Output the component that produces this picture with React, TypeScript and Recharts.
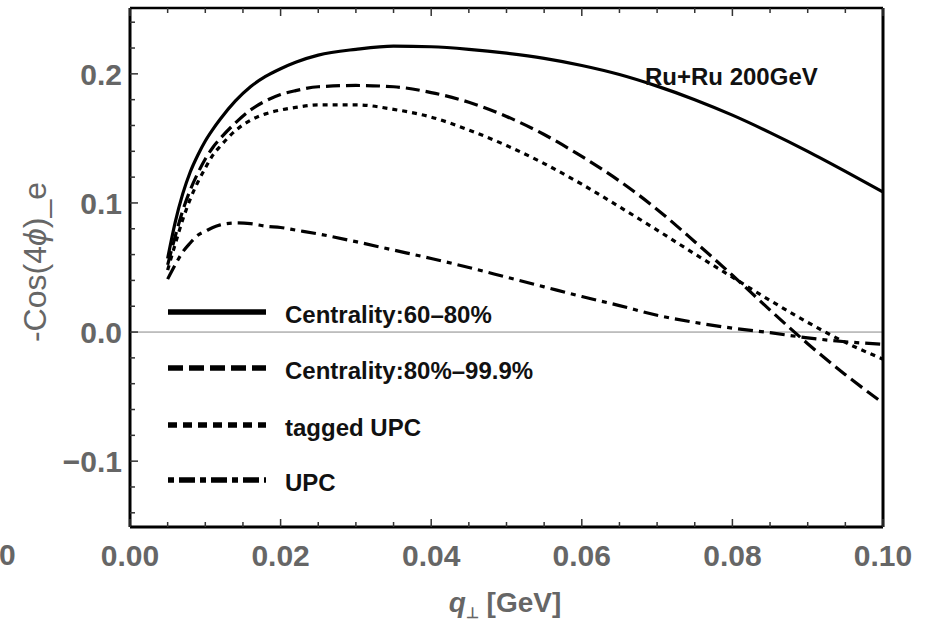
import React from "react"
import { LineChart, Line, XAxis, YAxis, ReferenceLine } from "recharts"

// transverse momentum grid (GeV)
const qValues = [
    0.005, 0.006, 0.007, 0.008, 0.009, 0.01, 0.011, 0.012, 0.014, 0.016, 0.018, 0.02, 0.022, 0.025, 0.03,
    0.035, 0.04, 0.045, 0.05, 0.055, 0.06, 0.065, 0.07, 0.075, 0.08, 0.085, 0.09, 0.095, 0.1,
]

const centrality6080 = [
    0.057, 0.085, 0.107, 0.124, 0.137, 0.148, 0.157, 0.165, 0.179, 0.19, 0.198, 0.204, 0.209, 0.2145, 0.219,
    0.2215, 0.221, 0.219, 0.216, 0.212, 0.2065, 0.1995, 0.1905, 0.18, 0.168, 0.1545, 0.14, 0.1245, 0.1085,
]

const centrality8099 = [
    0.052, 0.074, 0.094, 0.11, 0.123, 0.134, 0.143, 0.15, 0.162, 0.172, 0.179, 0.184, 0.187, 0.19, 0.191,
    0.19, 0.1855, 0.178, 0.167, 0.153, 0.136, 0.117, 0.095, 0.07, 0.044, 0.017, -0.009, -0.033, -0.055,
]

const taggedUpc = [
    0.048, 0.068, 0.087, 0.103, 0.116, 0.127, 0.137, 0.144, 0.156, 0.164, 0.169, 0.172, 0.174, 0.176, 0.176,
    0.1725, 0.1665, 0.1565, 0.1445, 0.1305, 0.1145, 0.097, 0.079, 0.0605, 0.0425, 0.0245, 0.0075, -0.008, -0.021,
]

const upc = [
    0.041, 0.052, 0.062, 0.069, 0.075, 0.078, 0.081, 0.083, 0.0845, 0.084, 0.082, 0.081, 0.079, 0.076, 0.07,
    0.0635, 0.057, 0.05, 0.0425, 0.035, 0.0275, 0.0205, 0.013, 0.0075, 0.003, -0.0005, -0.0045, -0.0075, -0.0095,
]

const xTicks = [
    0, 0.005, 0.01, 0.015, 0.02, 0.025, 0.03, 0.035, 0.04, 0.045, 0.05, 0.055, 0.06, 0.065, 0.07, 0.075, 0.08,
    0.085, 0.09, 0.095, 0.1,
]
const xMajor = [0, 0.02, 0.04, 0.06, 0.08, 0.1]
const yTicks = [
    -0.14, -0.12, -0.1, -0.08, -0.06, -0.04, -0.02, 0, 0.02, 0.04, 0.06, 0.08, 0.1, 0.12, 0.14, 0.16, 0.18, 0.2,
    0.22, 0.24,
]
const yMajor = [-0.1, 0, 0.1, 0.2]

const series = [
    { key: "c6080", name: "Centrality:60\u201380%", dash: undefined, legendDash: undefined },
    { key: "c8099", name: "Centrality:80%\u201399.9%", dash: "14 6", legendDash: "15 6" },
    { key: "tagged", name: "tagged UPC", dash: "5 5", legendDash: "9 6" },
    { key: "upc", name: "UPC", dash: "15 6 5 6", legendDash: "6 5 16 5" },
]

const data = qValues.map((q, i) => ({
    q,
    c6080: centrality6080[i],
    c8099: centrality8099[i],
    tagged: taggedUpc[i],
    upc: upc[i],
}))

const labelColor = "#666"
const font = "'Liberation Sans', Arial, sans-serif"

const isMajor = (list: number[], v: number) => list.some((m) => Math.abs(m - v) < 1e-9)

const fmtY = (v: number) => (v < 0 ? "\u2212" + Math.abs(v).toFixed(1) : v.toFixed(1))

function BottomTick({ x, y, payload }: any) {
    const major = isMajor(xMajor, payload.value)
    return (
        <g>
            <line x1={x} x2={x} y1={y} y2={y - (major ? 8 : 5)} stroke="#333" strokeWidth={1.5} />
            {major ? (
                <text x={x} y={y + 39} textAnchor="middle" fontSize={30} fontWeight="bold" fill={labelColor} fontFamily={font}>
                    {payload.value.toFixed(2)}
                </text>
            ) : null}
        </g>
    )
}

function TopTick({ x, y, payload }: any) {
    const major = isMajor(xMajor, payload.value)
    return <line x1={x} x2={x} y1={y} y2={y + (major ? 8 : 5)} stroke="#333" strokeWidth={1.5} />
}

function LeftTick({ x, y, payload }: any) {
    const major = isMajor(yMajor, payload.value)
    return (
        <g>
            <line x1={x} x2={x + (major ? 8 : 5)} y1={y} y2={y} stroke="#333" strokeWidth={1.5} />
            {major ? (
                <text x={x - 8} y={y} dy="0.36em" textAnchor="end" fontSize={30} fontWeight="bold" fill={labelColor} fontFamily={font}>
                    {fmtY(payload.value)}
                </text>
            ) : null}
        </g>
    )
}

function RightTick({ x, y, payload }: any) {
    const major = isMajor(yMajor, payload.value)
    return <line x1={x} x2={x - (major ? 8 : 5)} y1={y} y2={y} stroke="#333" strokeWidth={1.5} />
}

const legendRows = [312, 368, 425, 480]

export default function App() {
    return (
        <div style={{ position: "absolute", left: 0, top: 0, width: 928, height: 628, background: "#fff" }}>
            <LineChart
                width={928}
                height={628}
                data={data}
                margin={{ top: 0, right: 0, left: 0, bottom: 0 }}
            >
                <XAxis
                    xAxisId="bottom"
                    dataKey="q"
                    type="number"
                    domain={[0, 0.1]}
                    ticks={xTicks}
                    interval={0}
                    height={101}
                    tickSize={0}
                    tickMargin={0}
                    tickLine={false}
                    axisLine={{ stroke: "#000", strokeWidth: 3 }}
                    tick={<BottomTick />}
                />
                <XAxis
                    xAxisId="top"
                    orientation="top"
                    dataKey="q"
                    type="number"
                    domain={[0, 0.1]}
                    ticks={xTicks}
                    interval={0}
                    height={8}
                    tickSize={0}
                    tickMargin={0}
                    tickLine={false}
                    axisLine={{ stroke: "#000", strokeWidth: 2.5 }}
                    tick={<TopTick />}
                />
                <YAxis
                    yAxisId="left"
                    type="number"
                    domain={[-0.151, 0.251]}
                    ticks={yTicks}
                    interval={0}
                    width={130}
                    tickSize={0}
                    tickMargin={0}
                    tickLine={false}
                    axisLine={{ stroke: "#000", strokeWidth: 3 }}
                    tick={<LeftTick />}
                />
                <YAxis
                    yAxisId="right"
                    orientation="right"
                    type="number"
                    domain={[-0.151, 0.251]}
                    ticks={yTicks}
                    interval={0}
                    width={45}
                    tickSize={0}
                    tickMargin={0}
                    tickLine={false}
                    axisLine={{ stroke: "#000", strokeWidth: 3 }}
                    tick={<RightTick />}
                />
                <ReferenceLine xAxisId="bottom" yAxisId="left" y={0} stroke="#888" strokeWidth={1} />
                {series.map((s) => (
                    <Line
                        key={s.key}
                        xAxisId="bottom"
                        yAxisId="left"
                        type="monotone"
                        dataKey={s.key}
                        name={s.name}
                        stroke="#000"
                        strokeWidth={3.2}
                        strokeDasharray={s.dash}
                        dot={false}
                        activeDot={false}
                        isAnimationActive={false}
                    />
                ))}
            </LineChart>
            <svg
                width={928}
                height={628}
                style={{ position: "absolute", left: 0, top: 0, pointerEvents: "none" }}
                fontFamily={font}
            >
                {/* edge of the neighbouring panel's tick label */}
                <text x={-1} y={565} fontSize={30} fontWeight="bold" fill={labelColor}>
                    0
                </text>
                <text
                    transform="translate(46, 262) rotate(-90)"
                    textAnchor="middle"
                    fontSize={32}
                    fill={labelColor}
                >
                    -Cos(4<tspan fontStyle="italic">ϕ</tspan>)_e
                </text>
                <text x={505} y={612} textAnchor="middle" fontSize={28} fontWeight="bold" fill={labelColor}>
                    <tspan fontStyle="italic">q</tspan>
                    <tspan fontSize={15} dy={6}>⊥</tspan>
                    <tspan dy={-6}> [GeV]</tspan>
                </text>
                <text x={645} y={85} fontSize={24} fontWeight="bold" fill="#111">
                    Ru+Ru 200GeV
                </text>
                {series.map((s, i) => (
                    <g key={s.key}>
                        <line
                            x1={168}
                            x2={266}
                            y1={legendRows[i]}
                            y2={legendRows[i]}
                            stroke="#000"
                            strokeWidth={5.5}
                            strokeDasharray={s.legendDash}
                        />
                        <text x={285} y={legendRows[i] + 11} fontSize={24} fontWeight="bold" fill="#111">
                            {s.name}
                        </text>
                    </g>
                ))}
            </svg>
        </div>
    )
}
